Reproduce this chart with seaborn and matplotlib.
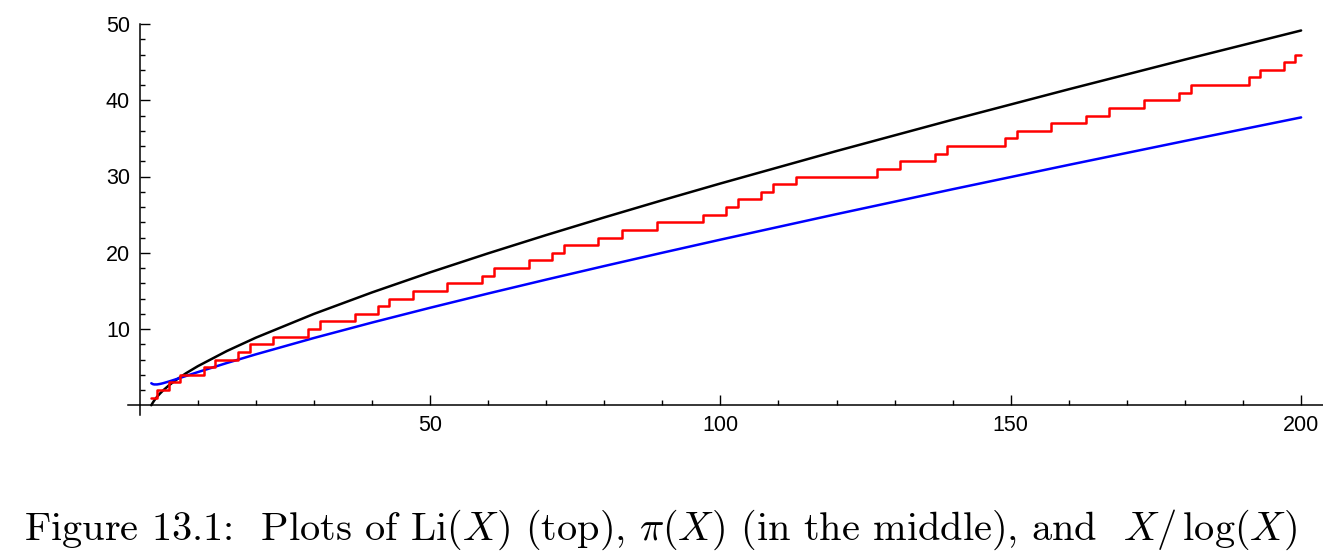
import matplotlib
matplotlib.use("Agg")
import matplotlib.pyplot as plt
import seaborn as sns
import pandas as pd
from matplotlib.ticker import FixedLocator, NullFormatter

# ---- data ----
x_grid = [2, 2.25, 2.5, 3, 3.5, 4, 5, 6, 8, 10, 15, 20, 30, 40, 50, 60, 70,
          80, 90, 100, 120, 140, 160, 180, 200]
li_vals = [0, 0.332, 0.622, 1.118, 1.542, 1.922, 2.589, 3.177, 4.209, 5.120,
           7.110, 8.862, 11.979, 14.796, 17.426, 19.922, 22.319, 24.635,
           26.887, 29.083, 33.340, 37.450, 41.442, 45.337, 49.149]
xlog_vals = [2.885, 2.775, 2.728, 2.731, 2.794, 2.885, 3.107, 3.349, 3.847,
             4.343, 5.539, 6.676, 8.820, 10.843, 12.781, 14.654, 16.476,
             18.256, 20.001, 21.715, 25.065, 28.331, 31.526, 34.662, 37.748]
prime_steps = [2, 3, 5, 7, 11, 13, 17, 19, 23, 29, 31, 37, 41, 43, 47, 53, 59,
               61, 67, 71, 73, 79, 83, 89, 97, 101, 103, 107, 109, 113, 127,
               131, 137, 139, 149, 151, 157, 163, 167, 173, 179, 181, 191,
               193, 197, 199, 200]
pi_vals = [1, 2, 3, 4, 5, 6, 7, 8, 9, 10, 11, 12, 13, 14, 15, 16, 17, 18, 19,
           20, 21, 22, 23, 24, 25, 26, 27, 28, 29, 30, 31, 32, 33, 34, 35, 36,
           37, 38, 39, 40, 41, 42, 43, 44, 45, 46, 46]
x_major = [50, 100, 150, 200]
x_minor = [10, 20, 30, 40, 60, 70, 80, 90, 110, 120, 130, 140, 160, 170, 180, 190]
y_major = [10, 20, 30, 40, 50]
y_minor = [2, 4, 6, 8, 12, 14, 16, 18, 22, 24, 26, 28, 32, 34, 36, 38, 42, 44, 46, 48]
caption = r"Figure 13.1:  Plots of Li$(X)$ (top), $\pi(X)$ (in the middle), and  $X/\,\log(X)$"

sns.set_style("white")
plt.rcParams["font.family"] = ["Liberation Sans", "DejaVu Sans"]
plt.rcParams["mathtext.fontset"] = "cm"

W, H = 1323, 552
fig = plt.figure(figsize=(W / 100, H / 100), dpi=100)
ax = fig.add_axes([128 / W, (H - 415) / H, 1 - 128 / W, (415 - 20) / H])

df_li = pd.DataFrame({"x": x_grid, "y": li_vals})
df_xl = pd.DataFrame({"x": x_grid, "y": xlog_vals})
df_pi = pd.DataFrame({"x": prime_steps, "y": pi_vals})

lw = 1.8
sns.lineplot(data=df_li, x="x", y="y", ax=ax, color="black", lw=lw, estimator=None)
sns.lineplot(data=df_xl, x="x", y="y", ax=ax, color="#0000ff", lw=lw, estimator=None)
sns.lineplot(data=df_pi, x="x", y="y", ax=ax, color="#ff0000", lw=lw, estimator=None,
             drawstyle="steps-post")

x0 = (128 - 139.7) / 5.807
x1 = (1323 - 139.7) / 5.807
y0 = (405.25 - 415) / 7.625
y1 = (405.25 - 20) / 7.625
ax.set_xlim(x0, x1)
ax.set_ylim(y0, y1)
ax.set_xlabel("")
ax.set_ylabel("")

for s in ["top", "right"]:
    ax.spines[s].set_visible(False)
ax.spines["left"].set_position(("data", 0))
ax.spines["bottom"].set_position(("data", 0))
ax.spines["left"].set_bounds(-1.25, 50)
ax.spines["bottom"].set_bounds(x0, x1)
for s in ["left", "bottom"]:
    ax.spines[s].set_linewidth(1.1)
    ax.spines[s].set_color("black")

ax.xaxis.set_major_locator(FixedLocator(x_major))
ax.xaxis.set_minor_locator(FixedLocator(x_minor))
ax.yaxis.set_major_locator(FixedLocator(y_major))
ax.yaxis.set_minor_locator(FixedLocator(y_minor))
ax.xaxis.set_minor_formatter(NullFormatter())
ax.yaxis.set_minor_formatter(NullFormatter())
ax.tick_params(which="both", direction="in", color="black", width=1.0,
               bottom=True, left=True, top=False, right=False)
ax.tick_params(which="major", length=7, labelsize=15.5, pad=7, labelcolor="black")
ax.tick_params(which="minor", length=3.5)
ax.grid(False)

t = fig.text(24 / W, (H - 540) / H, caption, fontsize=30, family="cmr10",
             ha="left", va="baseline", color="black")
fig.canvas.draw()
bb = t.get_window_extent()
t.set_fontsize(30 * (1297 - 24) / bb.width)

fig.savefig("out.png", dpi=100)
